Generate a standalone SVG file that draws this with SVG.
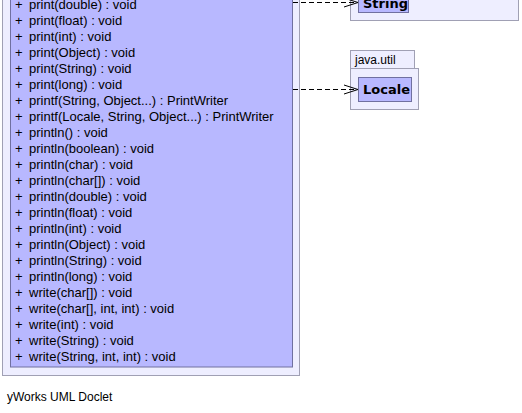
<svg xmlns="http://www.w3.org/2000/svg" width="522" height="413" viewBox="0 0 522 413">
<style>
.pkg{fill:#eeeeff;stroke:#a0a0b4;stroke-width:1}
.cls{fill:#b8b8ff;stroke:#7070a0;stroke-width:1}
.m{font-family:"Liberation Sans",Arial,sans-serif;font-size:13px;fill:#000}
.t{font-family:"DejaVu Sans","Liberation Sans",sans-serif;font-size:13px;font-weight:bold;fill:#000}
.p{font-family:"Liberation Sans",Arial,sans-serif;font-size:12px;fill:#000}
.e{fill:none;stroke:#000;stroke-width:1;stroke-dasharray:5,3}
.h{fill:none;stroke:#000;stroke-width:1}
</style>
<rect width="522" height="413" fill="#fff"/>
<g id="PrintWriter">
<rect class="pkg" x="2.5" y="-20" width="297" height="395.5"/>
<rect class="cls" x="10.5" y="-20" width="282" height="387"/>
<g class="m">
<text x="15" y="9">+</text><text x="29" y="9">print(double) : void</text>
<text x="15" y="25">+</text><text x="29" y="25">print(float) : void</text>
<text x="15" y="41">+</text><text x="29" y="41">print(int) : void</text>
<text x="15" y="57">+</text><text x="29" y="57">print(Object) : void</text>
<text x="15" y="73">+</text><text x="29" y="73">print(String) : void</text>
<text x="15" y="89">+</text><text x="29" y="89">print(long) : void</text>
<text x="15" y="105">+</text><text x="29" y="105">printf(String, Object...) : PrintWriter</text>
<text x="15" y="121">+</text><text x="29" y="121">printf(Locale, String, Object...) : PrintWriter</text>
<text x="15" y="137">+</text><text x="29" y="137">println() : void</text>
<text x="15" y="153">+</text><text x="29" y="153">println(boolean) : void</text>
<text x="15" y="169">+</text><text x="29" y="169">println(char) : void</text>
<text x="15" y="185">+</text><text x="29" y="185">println(char[]) : void</text>
<text x="15" y="201">+</text><text x="29" y="201">println(double) : void</text>
<text x="15" y="217">+</text><text x="29" y="217">println(float) : void</text>
<text x="15" y="233">+</text><text x="29" y="233">println(int) : void</text>
<text x="15" y="249">+</text><text x="29" y="249">println(Object) : void</text>
<text x="15" y="265">+</text><text x="29" y="265">println(String) : void</text>
<text x="15" y="281">+</text><text x="29" y="281">println(long) : void</text>
<text x="15" y="297">+</text><text x="29" y="297">write(char[]) : void</text>
<text x="15" y="313">+</text><text x="29" y="313">write(char[], int, int) : void</text>
<text x="15" y="329">+</text><text x="29" y="329">write(int) : void</text>
<text x="15" y="345">+</text><text x="29" y="345">write(String) : void</text>
<text x="15" y="361">+</text><text x="29" y="361">write(String, int, int) : void</text>
</g>
</g>
<g id="java.lang">
<rect class="pkg" x="350.5" y="-20" width="168" height="40.5"/>
<g id="String">
<rect class="cls" x="358.5" y="-20" width="50" height="32.5"/>
<text class="t" x="363" y="8">String</text>
</g>
</g>
<g id="java.util">
<rect class="pkg" x="350.5" y="50.5" width="64" height="18"/>
<text class="p" x="355" y="64">java.util</text>
<rect class="pkg" x="350.5" y="68.5" width="68" height="41"/>
<g id="Locale">
<rect class="cls" x="358.5" y="77.5" width="53" height="24"/>
<text class="t" x="363" y="94">Locale</text>
</g>
</g>
<g id="connectors">
<line class="e" x1="293" y1="2.5" x2="357" y2="2.5"/>
<polyline class="h" points="344,-2 358,2.5 344,7"/>
<line class="e" x1="293" y1="89.5" x2="357" y2="89.5"/>
<polyline class="h" points="344,85 358,89.5 344,94"/>
</g>
<text class="p" x="7" y="401" font-size="12.5">yWorks UML Doclet</text>
</svg>
